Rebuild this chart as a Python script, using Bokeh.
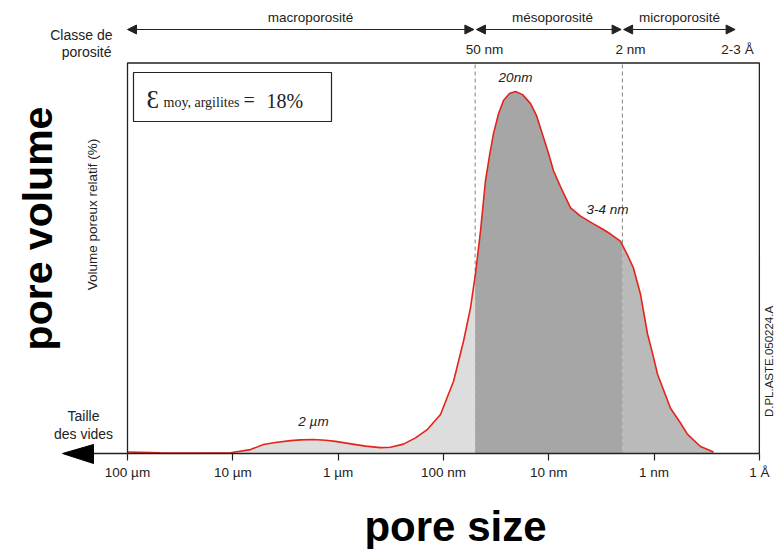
import numpy as np
from bokeh.plotting import figure
from bokeh.models import Range1d, FixedTicker, Arrow, NormalHead
from bokeh.core.properties import value
from bokeh.embed import file_html
from bokeh.resources import INLINE

# ---- data (pore size as log10 of size in nm, relative pore volume in %) ----
log_size_nm = [5.000, 4.687, 4.430, 4.022, 3.832, 3.709, 3.595, 3.452, 3.357, 3.234,
               3.120, 3.025, 2.863, 2.740, 2.598, 2.503, 2.380, 2.265, 2.151, 2.028,
               1.904, 1.809, 1.743, 1.695, 1.648, 1.601, 1.5625, 1.525, 1.477, 1.430,
               1.373, 1.316, 1.249, 1.173, 1.116, 1.050, 1.002, 0.955, 0.888, 0.793,
               0.698, 0.575, 0.490, 0.413, 0.320, 0.252, 0.196, 0.129, 0.062, 0.015,
               -0.033, -0.156, -0.251, -0.318, -0.441, -0.565]
rel_volume = [0.4, 0.15, 0.1, 0.2, 1.0, 2.3, 2.8, 3.3, 3.5, 3.6,
              3.4, 3.1, 2.4, 1.9, 1.5, 1.6, 2.4, 4.0, 6.2, 10.0,
              18.5, 28.8, 37.3, 46.2, 57.0, 69.8, 76.3, 81.9, 87.0, 90.4,
              92.2, 92.7, 91.9, 89.6, 86.5, 80.9, 76.8, 72.4, 68.3, 62.9,
              60.8, 58.8, 57.5, 56.2, 54.4, 50.8, 47.5, 40.8, 30.6, 25.7,
              20.3, 11.6, 7.8, 4.9, 1.8, 0.4]

tick_values = [5, 4, 3, 2, 1, 0, -1]
tick_labels = ["100 µm", "10 µm", "1 µm", "100 nm", "10 nm", "1 nm", "1 Å"]

class_names = ["macroporosité", "mésoporosité", "microporosité"]
class_limits_nm = [1e5, 50, 2, 0.17]
limit_labels = ["50 nm", "2 nm", "2-3 Å"]
class_fill = ["#dddddd", "#a6a6a6", "#bababa"]

peak_labels = ["2 µm", "20nm", "3-4 nm"]

FONT = value("Liberation Sans")
W, H = 783, 549

p = figure(width=W, height=H, output_backend="svg", toolbar_location=None,
           title=None, x_axis_location="below", y_axis_location=None,
           x_range=Range1d(6.206, -1.229), y_range=Range1d(-24.58, 116.0),
           min_border_left=0, min_border_right=0, min_border_top=0, min_border_bottom=0,
           outline_line_color=None, background_fill_color="white", border_fill_color="white")
p.xgrid.visible = False
p.ygrid.visible = False
p.extra_x_ranges = {"px": Range1d(0, W)}
p.extra_y_ranges = {"px": Range1d(H, 0)}

ax = p.xaxis[0]
ax.fixed_location = 0
ax.ticker = FixedTicker(ticks=tick_values)
ax.major_label_overrides = {t: l for t, l in zip(tick_values, tick_labels)}
ax.bounds = (min(tick_values), max(tick_values))
ax.minor_tick_line_color = None
ax.major_tick_in = 0
ax.major_tick_out = 7
ax.axis_line_color = "#222222"
ax.axis_line_width = 1.5
ax.major_tick_line_color = "#222222"
ax.major_tick_line_width = 1.2
ax.major_label_standoff = 4
ax.major_label_text_font = "Liberation Sans"
ax.major_label_text_font_size = "13.5px"
ax.major_label_text_color = "#222222"

x = np.array(log_size_nm)
y = np.array(rel_volume)
xb = [float(np.log10(v)) for v in class_limits_nm]
xs_inc, ys_inc = x[::-1], y[::-1]

# dashed class boundaries (behind fill)
for b in xb[1:3]:
    p.line([b, b], [0, 100], line_color="#808080", line_dash="4 3", line_width=1)

# filled areas per porosity class
for i in range(3):
    hi = min(xb[i], x.max())
    lo = max(xb[i + 1], x.min())
    m = (x < hi) & (x > lo)
    sx = np.concatenate([[hi], x[m], [lo]])
    sy = np.concatenate([[np.interp(hi, xs_inc, ys_inc)], y[m], [np.interp(lo, xs_inc, ys_inc)]])
    p.varea(x=sx, y1=np.zeros_like(sy), y2=sy, fill_color=class_fill[i])

p.line(x, y, line_color="#e3241b", line_width=1.6, line_join="round")

# chart box
p.line([tick_values[0], tick_values[0], tick_values[-1], tick_values[-1]], [0, 100, 100, 0],
       line_color="#222222", line_width=1.3)

# class arrows in the header
gap = 0.012
arrow_ends = [(tick_values[0], xb[1] + gap), (xb[1] - gap, xb[2] + gap), (xb[2] - gap, xb[3])]
for (a, b) in arrow_ends:
    p.add_layout(Arrow(x_start=a, x_end=b, y_start=29, y_end=29, y_range_name="px",
                       line_color="#222222", line_width=1.2,
                       start=NormalHead(size=9, fill_color="#222222", line_color="#222222"),
                       end=NormalHead(size=9, fill_color="#222222", line_color="#222222")))


def ptext(px, py, txt, size, align="center", style="normal", angle=0.0,
          font=FONT, color="#222222"):
    p.text(x=[px], y=[py], text=[txt], x_range_name="px", y_range_name="px",
           text_font=font, text_font_size=f"{size}px", text_align=align,
           text_baseline="middle", text_font_style=style, angle=angle, text_color=color)


ptext(112, 34, "Classe de", 14, align="right")
ptext(111, 51, "porosité", 14, align="right")
for name, cx in zip(class_names, [310, 552, 679]):
    ptext(cx, 17, name, 13.5)
for lab, cx in zip(limit_labels, [484, 630, 737]):
    ptext(cx, 49, lab, 13.5)

# peak labels
for lab, (cx, cy) in zip(peak_labels, [(313, 421), (515, 77), (607, 209)]):
    ptext(cx, cy, lab, 13.5, style="italic")

# legend box
p.quad(left=[133], right=[331], top=[72], bottom=[121], x_range_name="px", y_range_name="px",
       fill_color="white", line_color="#222222", line_width=1.2)
SERIF = value("Liberation Serif")
ptext(146, 99, "Ɛ", 25, align="left", font=SERIF)
ptext(163, 102, "moy, argilites", 14, align="left", font=SERIF)
ptext(243, 99, "=", 20, align="left", font=SERIF)
ptext(266, 100, "18%", 20, align="left", font=SERIF)

# left / right / bottom texts
ptext(37, 228, "pore volume", 41, style="bold", angle=np.pi / 2, color="black")
ptext(92, 214, "Volume poreux relatif (%)", 13.5, angle=np.pi / 2)
ptext(83, 415, "Taille", 14)
ptext(83, 433, "des vides", 14)
ptext(768, 361, "D.PL.ASTE.050224.A", 11.5, angle=np.pi / 2)
ptext(455, 526, "pore size", 42, style="bold", color="black")

# axis extension with arrow head to the left
p.line([93, 127], [453, 453], x_range_name="px", y_range_name="px",
       line_color="#222222", line_width=1.5)
p.patch([62, 93, 93], [453, 444, 463], x_range_name="px", y_range_name="px",
        fill_color="black", line_color="black")

open("out.html", "w").write(file_html(p, INLINE))
